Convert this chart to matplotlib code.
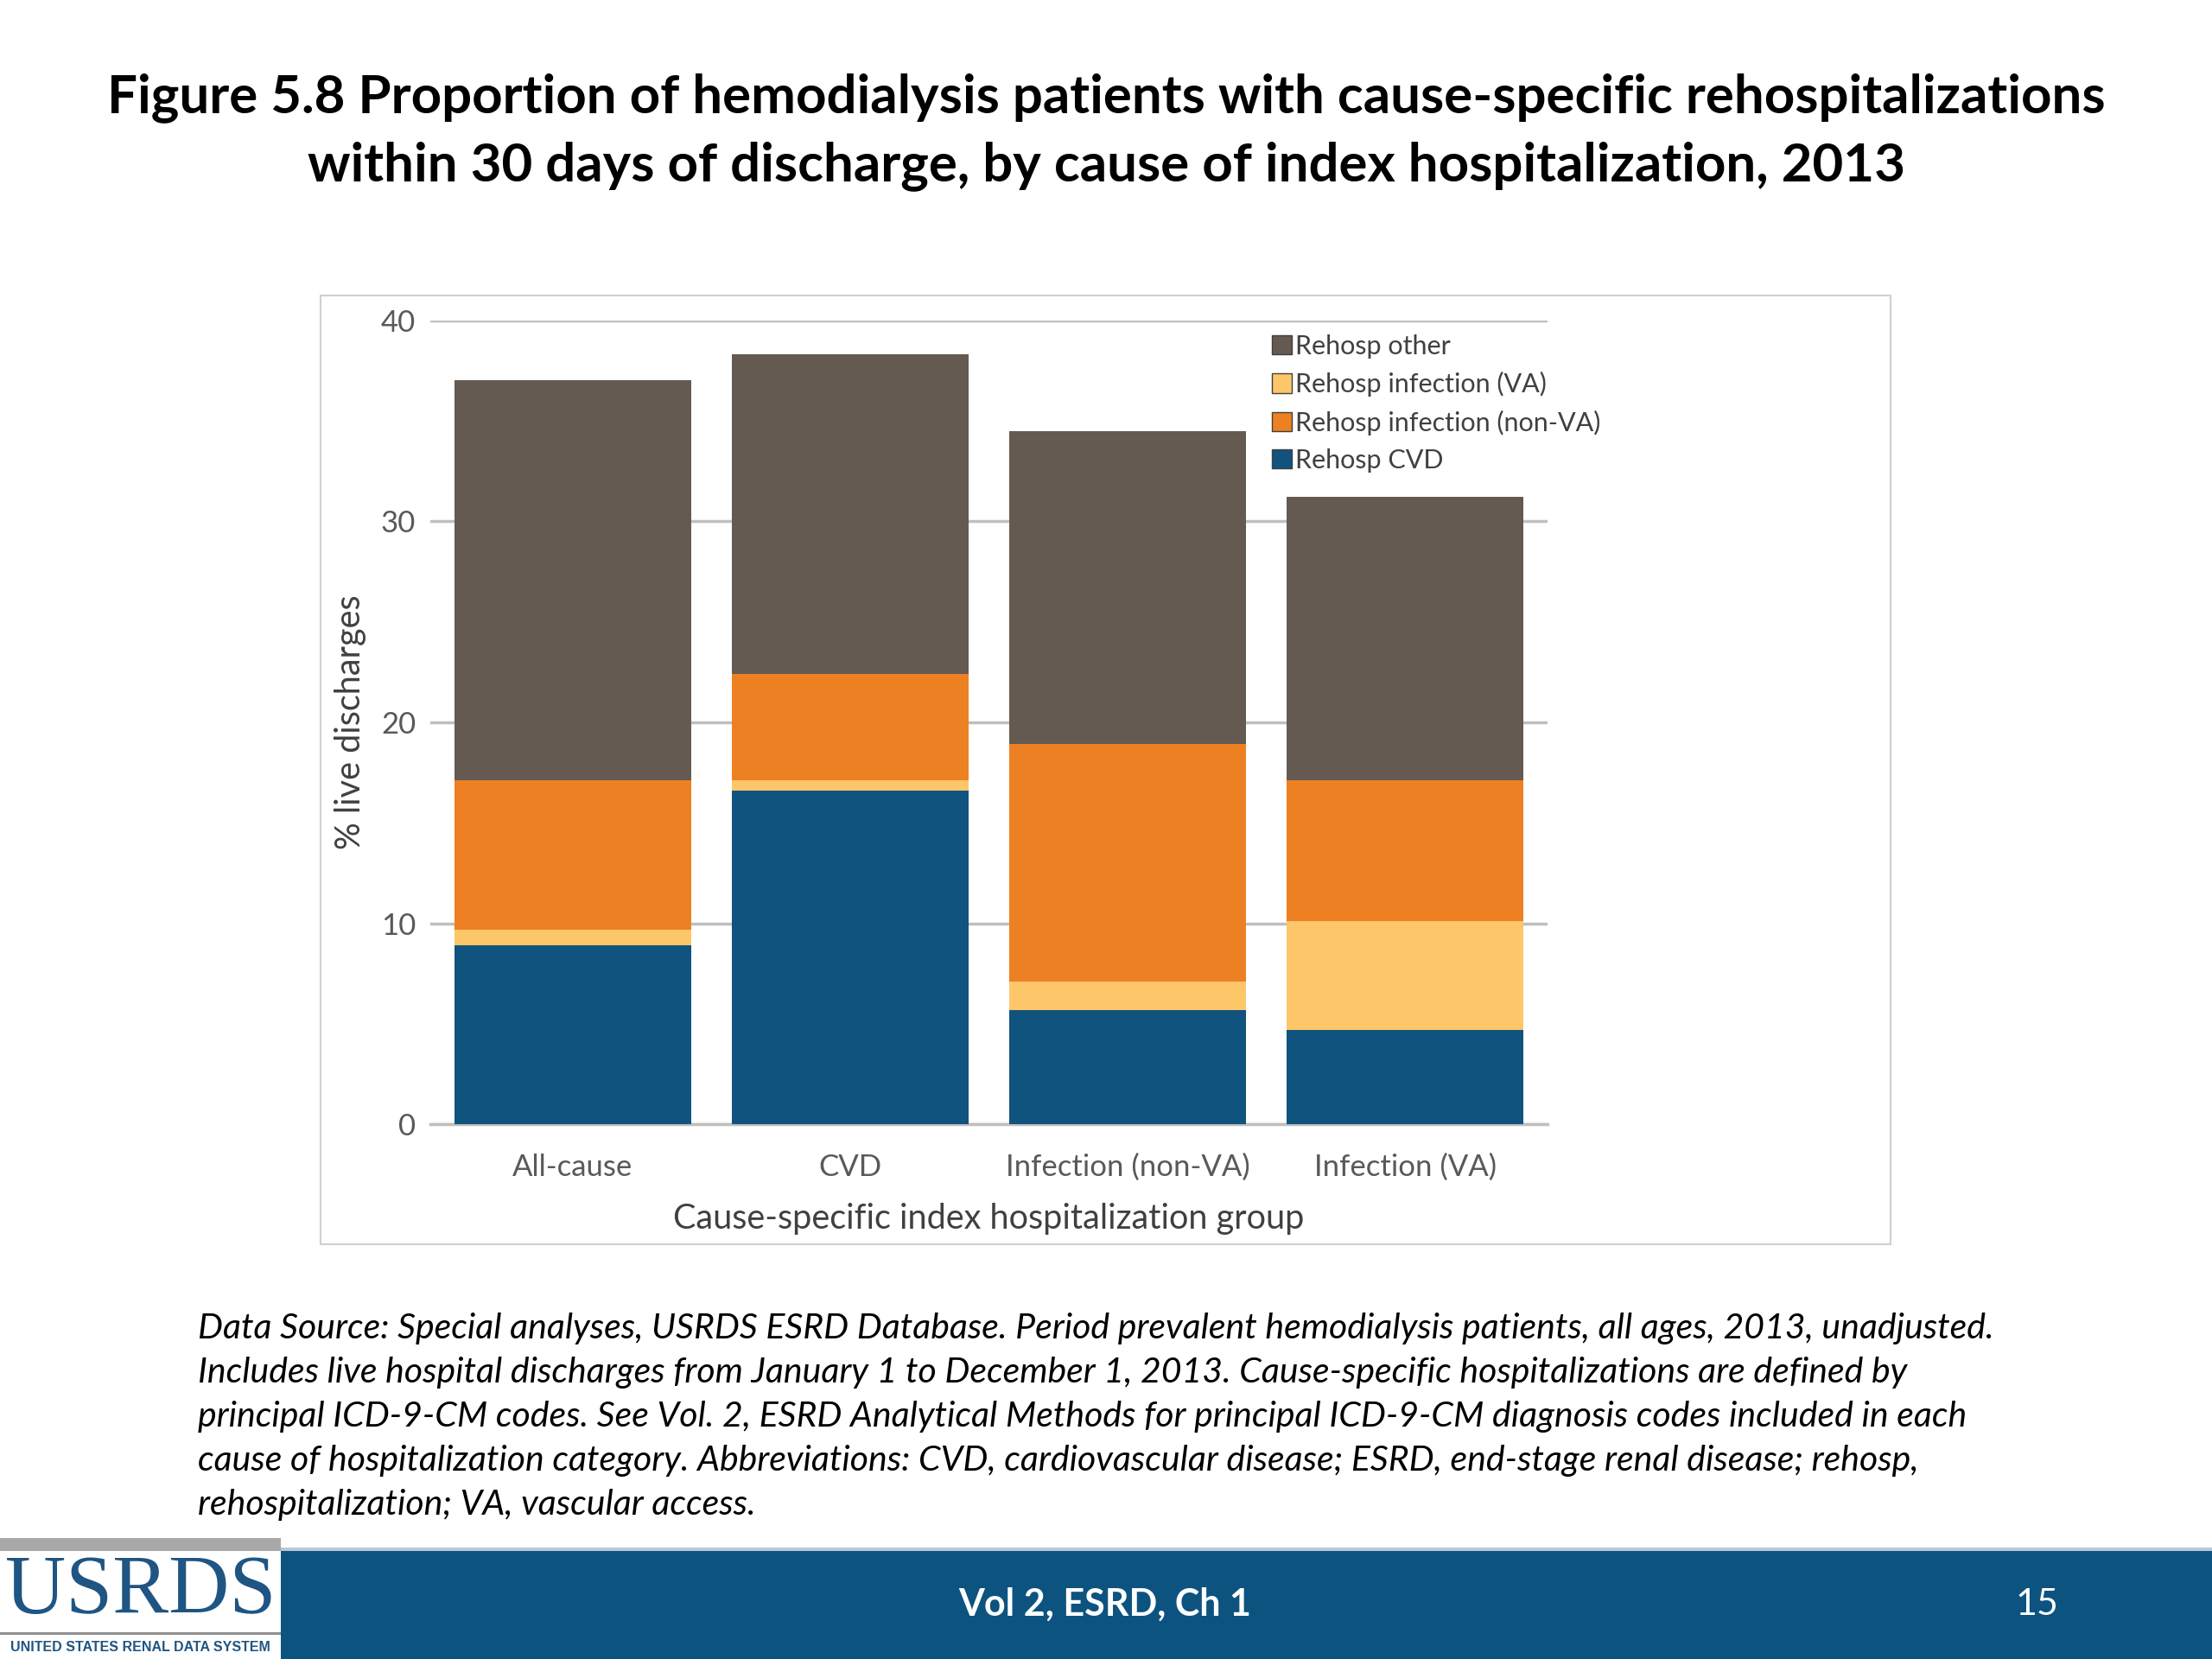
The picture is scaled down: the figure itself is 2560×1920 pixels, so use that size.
import matplotlib.pyplot as plt
import matplotlib.patches as mpatches
import numpy as np

groups = ['All-cause', 'CVD', 'Infection (non-VA)', 'Infection (VA)']
rehosp_cvd = [8.9, 16.6, 5.7, 4.7]
rehosp_va = [0.8, 0.5, 1.4, 5.4]
rehosp_nonva = [7.4, 5.3, 11.8, 7.0]
rehosp_other = [19.9, 15.9, 15.6, 14.1]

series = [('Rehosp CVD', rehosp_cvd, '#10537F'),
          ('Rehosp infection (VA)', rehosp_va, '#FDC669'),
          ('Rehosp infection (non-VA)', rehosp_nonva, '#ED8022'),
          ('Rehosp other', rehosp_other, '#645A51')]
legend_order = [3, 1, 2, 0]

plt.rcParams['font.family'] = ['Lato', 'DejaVu Sans']

fig = plt.figure(figsize=(25.6, 19.2), dpi=100)

# title
fig.text(0.5, 0.941, 'Figure 5.8 Proportion of hemodialysis patients with cause-specific rehospitalizations',
         ha='center', va='center', fontsize=44.5, fontweight='bold')
fig.text(0.5, 0.900, 'within 30 days of discharge, by cause of index hospitalization, 2013',
         ha='center', va='center', fontsize=44.5, fontweight='bold')

# chart frame
fig.patches.append(mpatches.Rectangle((0.1448, 0.250), 0.7098, 0.572, transform=fig.transFigure,
                                      fill=False, edgecolor='#D0D0D0', linewidth=1.5))

ax = fig.add_axes([0.1945, 0.3223, 0.5051, 0.4847])
x = np.arange(len(groups))
bottom = np.zeros(len(groups))
handles = []
for name, vals, col in series:
    b = ax.bar(x, vals, 0.853, bottom=bottom, color=col, label=name, zorder=3)
    bottom += np.array(vals)
    handles.append(b)

ax.set_ylim(0, 40)
ax.set_xlim(-0.513, 3.513)
ax.set_yticks([0, 10, 20, 30, 40])
ax.set_xticks(x, labels=groups)
ax.yaxis.grid(True, color='#BFBFBF', linewidth=2.5, zorder=0)
for s in ['top', 'right', 'left']:
    ax.spines[s].set_visible(False)
ax.spines['bottom'].set_color('#BFBFBF')
ax.spines['bottom'].set_linewidth(2.5)
ax.tick_params(length=0, labelsize=25, colors='#595959')
ax.tick_params(axis='x', pad=24)
ax.tick_params(axis='y', pad=12)
ax.set_ylabel('% live discharges', fontsize=28.5, color='#404040', labelpad=12)
ax.set_xlabel('Cause-specific index hospitalization group', fontsize=28.5, color='#404040', labelpad=18)

leg = ax.legend([handles[i] for i in legend_order], [series[i][0] for i in legend_order],
                loc='upper left', bbox_to_anchor=(0.732, 1.012), frameon=False, fontsize=22,
                handlelength=0.75, handleheight=0.75, handletextpad=0.15, labelspacing=0.5,
                labelcolor='#404040')
leg.set_zorder(10)
for h in leg.legend_handles:
    h.set_edgecolor('#404040')
    h.set_linewidth(1)

# caption
caption = ('Data Source: Special analyses, USRDS ESRD Database. Period prevalent hemodialysis patients, all ages, 2013, unadjusted.\n'
           'Includes live hospital discharges from January 1 to December 1, 2013. Cause-specific hospitalizations are defined by\n'
           'principal ICD-9-CM codes. See Vol. 2, ESRD Analytical Methods for principal ICD-9-CM diagnosis codes included in each\n'
           'cause of hospitalization category. Abbreviations: CVD, cardiovascular disease; ESRD, end-stage renal disease; rehosp,\n'
           'rehospitalization; VA, vascular access.')
fig.text(0.0893, 0.2087, caption, ha='left', va='top', fontsize=29.5, style='italic',
         color='#000000', linespacing=1.467)

# footer band
fig.patches.append(mpatches.Rectangle((0.127, 0), 0.873, 0.065, transform=fig.transFigure,
                                      facecolor='#0D5380', edgecolor='none'))
fig.patches.append(mpatches.Rectangle((0.127, 0.065), 0.873, 0.002, transform=fig.transFigure,
                                      facecolor='#B8C8D8', edgecolor='none'))
fig.patches.append(mpatches.Rectangle((0, 0.065), 0.127, 0.008, transform=fig.transFigure,
                                      facecolor='#A8A8A8', edgecolor='none'))
fig.patches.append(mpatches.Rectangle((0, 0.0145), 0.127, 0.0018, transform=fig.transFigure,
                                      facecolor='#909090', edgecolor='none'))
fig.text(0.0635, 0.0395, 'USRDS', ha='center', va='center', fontsize=70,
         family=['Liberation Serif', 'DejaVu Serif'], color='#1F5582')
fig.text(0.0635, 0.0068, 'UNITED STATES RENAL DATA SYSTEM', ha='center', va='center', fontsize=11.5,
         fontweight='bold', family=['Liberation Sans', 'DejaVu Sans'], color='#1F5582')
fig.text(0.4995, 0.033, 'Vol 2, ESRD, Ch 1', ha='center', va='center', fontsize=31,
         fontweight='bold', color='white')
fig.text(0.921, 0.033, '15', ha='center', va='center', fontsize=31, color='white')

fig.savefig('out.png', dpi=100)
